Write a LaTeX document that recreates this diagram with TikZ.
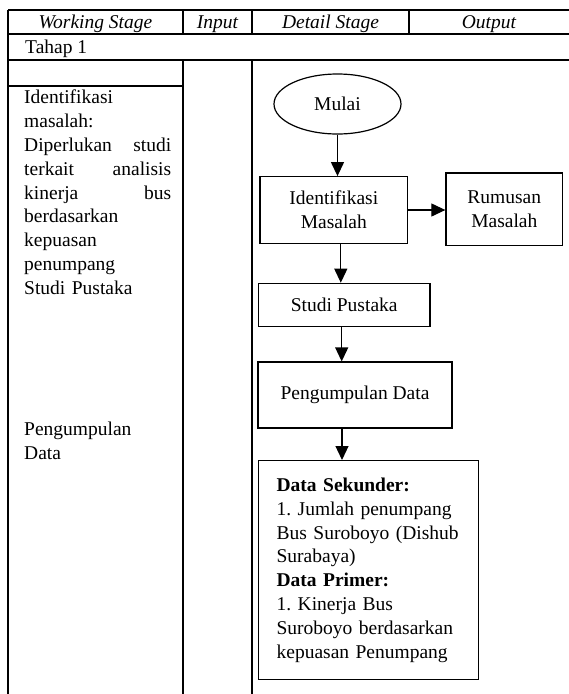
\documentclass[tikz,border=0pt]{standalone}
\usepackage{fontspec}
\setmainfont{Liberation Serif}
\usetikzlibrary{shapes.geometric,arrows.meta}
\newcommand{\jln}[2]{\leavevmode\hbox to 147pt{#1\hfil #2}}
\frenchspacing
\begin{document}
\begin{tikzpicture}[x=1pt,y=-1pt,
  every node/.style={font=\fontsize{19.5}{23.8}\selectfont, inner sep=0pt},
  tline/.style={line width=1.2pt},
  hdr/.style={font=\fontsize{19.5}{23.8}\selectfont\itshape, anchor=base},
  fbox/.style={draw, rectangle, line width=1.2pt, align=center},
  flow/.style={line width=1.2pt, -{Triangle[length=14pt,width=13pt]}}]
\useasboundingbox (0,0) rectangle (569,694);
% table grid
\draw[tline] (8,10) -- (569,10);
\draw[tline] (8,34) -- (569,34);
\draw[tline] (8,60) -- (569,60);
\draw[tline] (8,86) -- (183,86);
\draw[tline] (8,10) -- (8,694);
\draw[tline] (183,10) -- (183,34);
\draw[tline] (252,10) -- (252,34);
\draw[tline] (409,10) -- (409,34);
\draw[tline] (183,60) -- (183,694);
\draw[tline] (252,60) -- (252,694);
% header
\node[hdr] (hws) at (95.5,28) {Working Stage};
\node[hdr] (hin) at (217.5,28) {Input};
\node[hdr] (hds) at (330.5,28) {Detail Stage};
\node[hdr] (hout) at (489,28) {Output};
\node[anchor=base west] (tahap) at (25,53) {Tahap 1};
% working stage column
\node[anchor=north west, text width=147pt, align=left] (ws1) at (24,90) {Identifikasi\\ masalah:\\ \jln{Diperlukan}{studi}\\ \jln{terkait}{analisis}\\ \jln{kinerja}{bus}\\ berdasarkan\\ kepuasan\\ penumpang\\ Studi Pustaka};
\node[anchor=north west, text width=147pt, align=left] (ws2) at (24,422) {Pengumpulan\\ Data};
% flowchart
\node[draw, ellipse, line width=1.2pt, minimum width=127pt, minimum height=60pt] (mulai) at (337.5,104) {Mulai};
\node[fbox, minimum width=147.7pt, minimum height=66.6pt] (ident) at (333.8,210) {Identifikasi\\ Masalah};
\node[fbox, minimum width=116.7pt, minimum height=72.7pt] (rumus) at (504.3,209.3) {Rumusan\\ Masalah};
\node[fbox, minimum width=171.7pt, minimum height=43.4pt] (studi) at (344.2,305) {Studi Pustaka};
\node[fbox, minimum width=194pt, minimum height=66pt] (pengum) at (355,395) {Pengumpulan Data};
\node[draw, rectangle, line width=1.2pt, anchor=north west, text width=184pt, inner xsep=18pt, minimum height=219pt, align=left] (data) at (258,460) {\textbf{Data Sekunder:}\\ 1. Jumlah penumpang\\ Bus Suroboyo (Dishub\\ Surabaya)\\ \textbf{Data Primer:}\\ 1. Kinerja Bus\\ Suroboyo berdasarkan\\ kepuasan Penumpang};
% connectors
\draw[flow] (mulai.south) -- (mulai.south |- ident.north);
\draw[flow] (ident.east) -- (ident.east -| rumus.west);
\draw[flow] ([xshift=7pt]ident.south) -- ([xshift=7pt]ident.south |- studi.north);
\draw[flow] ([xshift=-2.5pt]studi.south) -- ([xshift=-2.5pt]studi.south |- pengum.north);
\draw[flow] ([xshift=-13pt]pengum.south) -- ([xshift=-13pt]pengum.south |- data.north);
\end{tikzpicture}
\end{document}
